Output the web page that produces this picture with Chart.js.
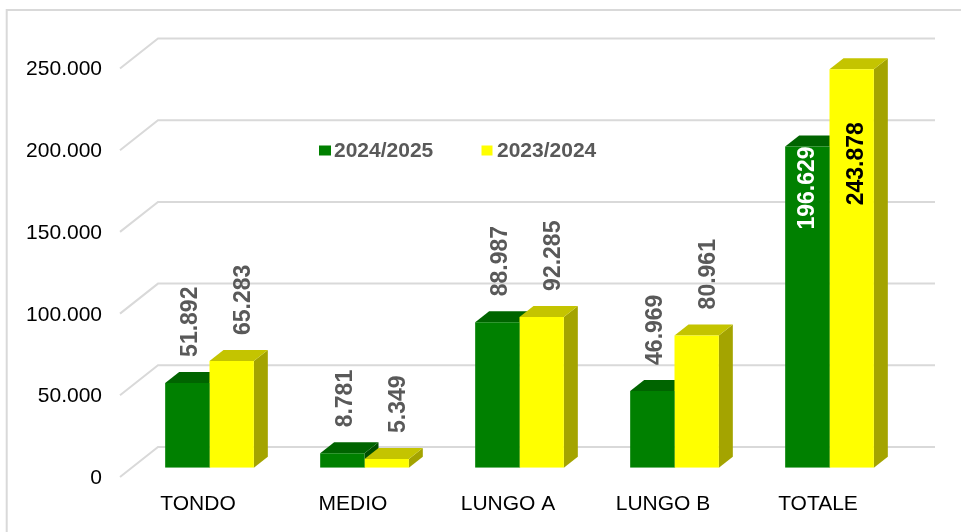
<!DOCTYPE html>
<html>
<head>
<meta charset="utf-8">
<script src="https://cdn.jsdelivr.net/npm/chart.js@4.4.1/dist/chart.umd.min.js"></script>
<style>
    html, body { margin: 0; padding: 0; background: #fff; }
    #wrap { width: 961px; height: 532px; }
</style>
</head>
<body>
<div id="wrap"><canvas id="chart" width="961" height="532"></canvas></div>
<script>
// ===== Dati =====
const categories = ['TONDO', 'MEDIO', 'LUNGO A', 'LUNGO B', 'TOTALE'];
const seriesNames = ['2024/2025', '2023/2024'];
const values2425 = [51892, 8781, 88987, 46969, 196629];
const values2324 = [65283, 5349, 92285, 80961, 243878];
const yTicks = [0, 50000, 100000, 150000, 200000, 250000];

const FONT = '"Liberation Sans", Arial, sans-serif';
const GREEN = '#008000';
const YELLOW = '#ffff00';
// facce 3D (sopra / lato) per serie
const faces = [
    { top: '#006400', side: '#004f00' },
    { top: '#c4c400', side: '#a4a400' }
];
const DX = 14, DY = -11;          // profondita' delle barre
const WALL_DX = 26, WALL_DY = -20.7; // parete di fondo rispetto al piano barre
const FRONT_DX = -12, FRONT_DY = 9.3; // piano frontale (etichette asse)

// separatore migliaia con punto
function fmt(v) {
    return String(v).replace(/\B(?=(\d{3})+(?!\d))/g, '.');
}

// bordo esterno + griglia "3D" + facce delle barre
const scene3d = {
    id: 'scene3d',
    beforeDraw(chart) {
        const ctx = chart.ctx;
        ctx.save();
        ctx.strokeStyle = '#d9d9d9';
        ctx.lineWidth = 2;
        ctx.beginPath();
        ctx.moveTo(6.7, 532);
        ctx.lineTo(6.7, 10);
        ctx.lineTo(961, 10);
        ctx.stroke();
        ctx.restore();
    },
    beforeDatasetsDraw(chart) {
        const ctx = chart.ctx;
        const area = chart.chartArea;
        const yScale = chart.scales.y;

        ctx.save();
        ctx.strokeStyle = '#d9d9d9';
        ctx.lineWidth = 2;
        yTicks.forEach(v => {
            const y = yScale.getPixelForValue(v);
            ctx.beginPath();
            ctx.moveTo(area.left + FRONT_DX, y + FRONT_DY);
            ctx.lineTo(area.left + WALL_DX, y + WALL_DY);
            ctx.lineTo(area.right + 28, y + WALL_DY);
            ctx.stroke();
        });

        categories.forEach((c, i) => {
            [0, 1].forEach(d => {
                const bar = chart.getDatasetMeta(d).data[i];
                const p = bar.getProps(['x', 'y', 'base', 'width'], true);
                const left = p.x - p.width / 2;
                const right = p.x + p.width / 2;

                // lato
                ctx.fillStyle = faces[d].side;
                ctx.beginPath();
                ctx.moveTo(right, p.y);
                ctx.lineTo(right + DX, p.y + DY);
                ctx.lineTo(right + DX, p.base + DY);
                ctx.lineTo(right, p.base);
                ctx.closePath();
                ctx.fill();

                // sopra
                ctx.fillStyle = faces[d].top;
                ctx.beginPath();
                ctx.moveTo(left, p.y);
                ctx.lineTo(left + DX, p.y + DY);
                ctx.lineTo(right + DX, p.y + DY);
                ctx.lineTo(right, p.y);
                ctx.closePath();
                ctx.fill();
            });
        });
        ctx.restore();
    },
    afterDatasetsDraw(chart) {
        const ctx = chart.ctx;
        const shiftOut = [3, 12];
        const shiftIn = [0, 5];
        const insideOffset = [0, 53];

        ctx.save();
        ctx.font = 'bold 23px ' + FONT;
        ctx.textBaseline = 'middle';
        [0, 1].forEach(d => {
            const meta = chart.getDatasetMeta(d);
            const data = chart.data.datasets[d].data;
            meta.data.forEach((bar, i) => {
                const p = bar.getProps(['x', 'y'], true);
                ctx.save();
                if (categories[i] === 'TOTALE') {
                    ctx.fillStyle = d === 0 ? '#ffffff' : '#000000';
                    ctx.textAlign = 'right';
                    ctx.translate(p.x + shiftIn[d], p.y + insideOffset[d]);
                } else {
                    ctx.fillStyle = '#595959';
                    ctx.textAlign = 'left';
                    ctx.translate(p.x + shiftOut[d], p.y - 26);
                }
                ctx.rotate(-Math.PI / 2);
                ctx.fillText(fmt(data[i]), 0, 0);
                ctx.restore();
            });
        });
        ctx.restore();
    },
    afterDraw(chart) {
        // legenda
        const ctx = chart.ctx;
        const items = [
            { box: [319, 145.5, 12, 10], tx: 334 },
            { box: [481.5, 145.5, 11, 10], tx: 497 }
        ];
        ctx.save();
        ctx.font = 'bold 21px ' + FONT;
        ctx.textBaseline = 'middle';
        ctx.textAlign = 'left';
        items.forEach((it, d) => {
            ctx.fillStyle = chart.data.datasets[d].backgroundColor;
            ctx.fillRect(it.box[0], it.box[1], it.box[2], it.box[3]);
            ctx.fillStyle = '#595959';
            ctx.fillText(chart.data.datasets[d].label, it.tx, 151);
        });
        ctx.restore();
    }
};

new Chart(document.getElementById('chart'), {
    type: 'bar',
    data: {
        labels: categories,
        datasets: [
            {
                label: seriesNames[0],
                data: values2425,
                backgroundColor: GREEN,
                borderWidth: 0,
                barPercentage: 1,
                categoryPercentage: 0.572
            },
            {
                label: seriesNames[1],
                data: values2324,
                backgroundColor: YELLOW,
                borderWidth: 0,
                barPercentage: 1,
                categoryPercentage: 0.572
            }
        ]
    },
    options: {
        responsive: false,
        devicePixelRatio: 1,
        animation: false,
        layout: {
            padding: { top: 59.2, right: 54, left: 0, bottom: 0 }
        },
        plugins: {
            legend: { display: false },
            tooltip: { enabled: false }
        },
        scales: {
            x: {
                grid: { display: false, drawTicks: false },
                border: { display: false },
                ticks: {
                    color: '#000000',
                    font: { family: FONT, size: 21 },
                    padding: 24,
                    labelOffset: -11.5,
                    maxRotation: 0,
                    autoSkip: false
                },
                afterFit(scale) { scale.height = 64.3; }
            },
            y: {
                min: 0,
                max: 250000,
                grid: { display: false, drawTicks: false },
                border: { display: false },
                afterBuildTicks(scale) {
                    scale.ticks = yTicks.map(v => ({ value: v }));
                },
                ticks: {
                    color: '#000000',
                    font: { family: FONT, size: 21 },
                    padding: 30,
                    labelOffset: 10.5,
                    callback: function(value) {
                        return fmt(value);
                    }
                },
                afterFit(scale) { scale.width = 132; }
            }
        }
    },
    plugins: [scene3d]
});
</script>
</body>
</html>
